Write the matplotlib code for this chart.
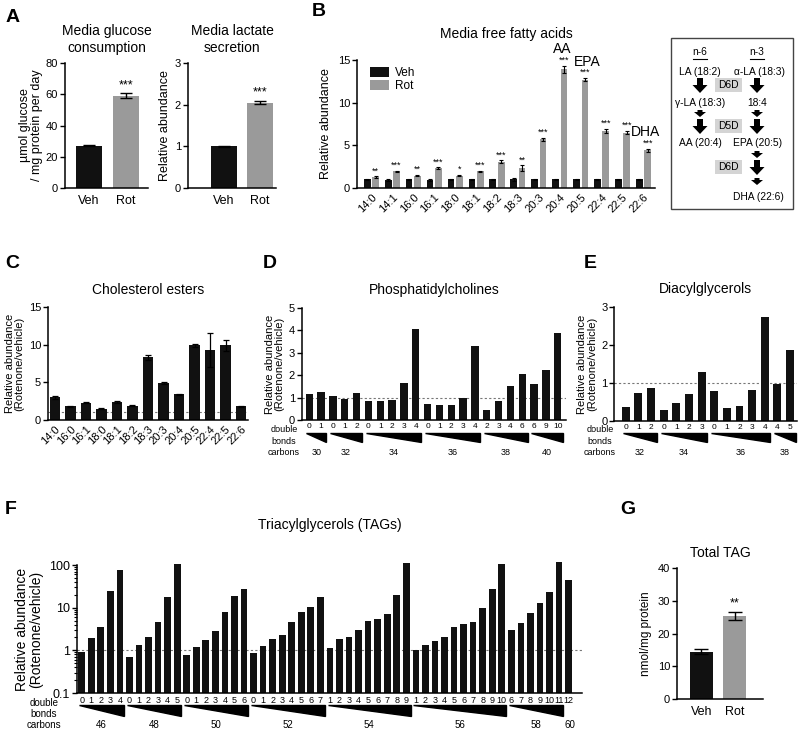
import matplotlib
matplotlib.use("Agg")
import matplotlib.pyplot as plt
import numpy as np
from matplotlib.transforms import blended_transform_factory
from matplotlib.patches import Polygon, FancyArrow, Rectangle

plt.rcParams['font.family'] = ['Liberation Sans', 'DejaVu Sans']
plt.rcParams['font.size'] = 8

# ---------------- data ----------------
ab_groups = ['Veh', 'Rot']
glucose_vals = [27, 59]
glucose_err = [0.4, 1.5]
lactate_vals = [1.0, 2.05]
lactate_err = [0.01, 0.04]

ffa_labels = ['14:0', '14:1', '16:0', '16:1', '18:0', '18:1', '18:2', '18:3',
              '20:3', '20:4', '20:5', '22:4', '22:5', '22:6']
ffa_veh = [1.0, 0.95, 1.0, 0.95, 1.0, 1.0, 1.0, 1.0, 1.0, 1.0, 1.0, 1.0, 1.0, 1.0]
ffa_veh_err = [0.08, 0.08, 0.1, 0.08, 0.1, 0.08, 0.1, 0.2, 0.1, 0.1, 0.1, 0.1, 0.1, 0.1]
ffa_rot = [1.3, 1.95, 1.45, 2.35, 1.45, 1.95, 3.1, 2.3, 5.7, 13.9, 12.7, 6.7, 6.5, 4.4]
ffa_rot_err = [0.08, 0.08, 0.1, 0.1, 0.1, 0.08, 0.15, 0.35, 0.15, 0.45, 0.2, 0.25, 0.2, 0.2]
ffa_sig = ['**', '***', '**', '***', '*', '***', '***', '**', '***', '***', '***', '***', '***', '***']

ce_labels = ['14:0', '16:0', '16:1', '18:0', '18:1', '18:2', '18:3', '20:3',
             '20:4', '20:5', '22:4', '22:5', '22:6']
ce_vals = [3.0, 1.8, 2.3, 1.5, 2.4, 1.9, 8.3, 4.9, 3.4, 9.9, 9.3, 9.9, 1.8]
ce_err = [0.2, 0.1, 0.1, 0.1, 0.1, 0.1, 0.3, 0.1, 0.1, 0.2, 2.2, 0.7, 0.1]

pc_carbons = ['30', '32', '34', '36', '38', '40']
pc_bonds = [[0, 1], [0, 1, 2], [0, 1, 2, 3, 4], [0, 1, 2, 3, 4], [2, 3, 4, 6], [6, 9, 10]]
pc_vals = [[1.15, 1.25], [1.05, 0.95, 1.2], [0.87, 0.87, 0.9, 1.65, 4.05],
           [0.73, 0.69, 0.68, 0.97, 3.3], [0.45, 0.85, 1.5, 2.05], [1.6, 2.25, 3.9]]

dag_carbons = ['32', '34', '36', '38']
dag_bonds = [[0, 1, 2], [0, 1, 2, 3], [0, 1, 2, 3, 4], [4, 5]]
dag_vals = [[0.38, 0.75, 0.88], [0.3, 0.47, 0.72, 1.3], [0.8, 0.35, 0.4, 0.82, 2.75], [0.98, 1.88]]

tag_carbons = ['46', '48', '50', '52', '54', '56', '58', '60']
tag_bonds = [[0, 1, 2, 3, 4], [0, 1, 2, 3, 4, 5], [0, 1, 2, 3, 4, 5, 6],
             [0, 1, 2, 3, 4, 5, 6, 7], [1, 2, 3, 4, 5, 6, 7, 8, 9],
             [1, 2, 3, 4, 5, 6, 7, 8, 9, 10], [6, 7, 8, 9, 10, 11], [12]]
tag_vals = [[0.93, 1.97, 3.6, 24, 76],
            [0.70, 1.31, 2.1, 4.6, 17.7, 105],
            [0.78, 1.21, 1.77, 2.8, 8.0, 19, 28],
            [0.88, 1.28, 1.84, 2.3, 4.5, 8.0, 10.2, 18],
            [1.15, 1.8, 2.1, 3.0, 4.9, 5.4, 7.0, 19.4, 110],
            [1.0, 1.33, 1.65, 2.1, 3.6, 4.2, 4.7, 9.9, 28, 108],
            [3.0, 4.4, 7.4, 13, 23.6, 115], [44]]

total_tag_vals = [14.5, 25.3]
total_tag_err = [0.8, 1.2]

VEH = '#111111'
ROT = '#9a9a9a'

# ---------------- figure ----------------
W, H = 800, 730
fig = plt.figure(figsize=(8, 7.3), dpi=100)


def fy(y):
    return 1 - y / H


def px_axes(l, t, r, b):
    return fig.add_axes([l / W, 1 - b / H, (r - l) / W, (b - t) / H])


def style(ax, lab=8):
    for s in ['top', 'right']:
        ax.spines[s].set_visible(False)
    for s in ['left', 'bottom']:
        ax.spines[s].set_linewidth(1.1)
    ax.tick_params(direction='out', length=3.5, width=1, labelsize=lab, pad=1.5)


def letter(x, y, s):
    fig.text(x / W, 1 - y / H, s, fontsize=14, fontweight='bold', ha='left', va='center')


def dashed(ax):
    ax.axhline(1, color='#777777', lw=0.8, ls=(0, (2, 2)), zorder=0)


# ---------- A ----------
letter(6, 18, 'A')
ax = px_axes(65, 63, 148, 188)
x = np.arange(len(ab_groups))
ax.bar(x, glucose_vals, width=0.72, color=[VEH, ROT],
       yerr=glucose_err, error_kw=dict(ecolor='black', capsize=4, elinewidth=1, capthick=1))
ax.set_xlim(-0.65, 1.6)
ax.set_ylim(0, 80)
ax.set_yticks([0, 20, 40, 60, 80])
ax.set_xticks(x, ab_groups)
style(ax)
ax.tick_params(axis='x', length=0, labelsize=9, pad=5)
ax.set_ylabel('µmol glucose\n/ mg protein per day', fontsize=9, labelpad=2, linespacing=1.0)
ax.set_title('Media glucose\nconsumption', fontsize=10, pad=8, linespacing=1.25)
ax.text(1, glucose_vals[1] + glucose_err[1] + 1.5, '***', ha='center', va='bottom', fontsize=9)

ax = px_axes(188, 63, 276, 188)
ax.bar(x, lactate_vals, width=0.72, color=[VEH, ROT],
       yerr=lactate_err, error_kw=dict(ecolor='black', capsize=4, elinewidth=1, capthick=1))
ax.set_xlim(-1.0, 1.45)
ax.set_ylim(0, 3)
ax.set_yticks([0, 1, 2, 3])
ax.set_xticks(x, ab_groups)
style(ax)
ax.tick_params(axis='x', length=0, labelsize=9, pad=5)
ax.set_ylabel('Relative abundance', fontsize=9, labelpad=3)
ax.set_title('Media lactate\nsecretion', fontsize=10, pad=8, linespacing=1.25)
ax.text(1, lactate_vals[1] + lactate_err[1] + 0.05, '***', ha='center', va='bottom', fontsize=9)

# ---------- B ----------
letter(312, 11, 'B')
ax = px_axes(357, 60, 655, 188)
xb = np.arange(len(ffa_labels))
ax.bar(xb - 0.2, ffa_veh, width=0.32, color=VEH, label='Veh', yerr=ffa_veh_err,
       error_kw=dict(ecolor='black', capsize=1.5, elinewidth=0.8, capthick=0.8))
ax.bar(xb + 0.2, ffa_rot, width=0.32, color=ROT, label='Rot', yerr=ffa_rot_err,
       error_kw=dict(ecolor='black', capsize=1.5, elinewidth=0.8, capthick=0.8))
for i in range(len(xb)):
    ax.text(xb[i] + 0.2, ffa_rot[i] + ffa_rot_err[i] + 0.1, ffa_sig[i],
            ha='center', va='bottom', fontsize=6.5)
ax.text(xb[9] + 0.1, ffa_rot[9] + ffa_rot_err[9] + 1.1, 'AA', ha='center', va='bottom', fontsize=10)
ax.text(xb[10] + 0.3, ffa_rot[10] + ffa_rot_err[10] + 1.1, 'EPA', ha='center', va='bottom', fontsize=10)
ax.text(xb[13] + 0.1, ffa_rot[13] + ffa_rot_err[13] + 1.1, 'DHA', ha='center', va='bottom', fontsize=10)
ax.set_xlim(-0.69, 13.55)
ax.set_ylim(0, 15)
ax.set_yticks([0, 5, 10, 15])
ax.set_xticks(xb, ffa_labels, rotation=45, ha='right', rotation_mode='anchor')
style(ax)
ax.tick_params(axis='x', length=0, labelsize=8, pad=3)
ax.set_ylabel('Relative abundance', fontsize=9, labelpad=4)
ax.set_title('Media free fatty acids', fontsize=10, pad=16)
ax.legend(loc='upper left', bbox_to_anchor=(0.02, 1.0), frameon=False, fontsize=8.5,
          handlelength=1.6, handleheight=0.9, borderaxespad=0.2, labelspacing=0.1,
          handletextpad=0.5)

# ---------- pathway box ----------
axp = fig.add_axes([0, 0, 1, 1])
axp.set_xlim(0, W)
axp.set_ylim(H, 0)
axp.axis('off')
axp.patch.set_visible(False)
axp.add_patch(Rectangle((671, 38), 122, 171, fill=False, ec='#444444', lw=1.0))
c6, c3 = 700, 757
fs = 7.4
axp.text(c6, 52, 'n-6', ha='center', va='center', fontsize=fs)
axp.text(c3, 52, 'n-3', ha='center', va='center', fontsize=fs)
axp.plot([c6 - 7, c6 + 7], [59, 59], color='black', lw=0.8)
axp.plot([c3 - 7, c3 + 7], [59, 59], color='black', lw=0.8)
axp.text(c6, 72, 'LA (18:2)', ha='center', va='center', fontsize=fs)
axp.text(c3 + 3, 72, 'α-LA (18:3)', ha='center', va='center', fontsize=fs)
axp.text(c6, 103, 'γ-LA (18:3)', ha='center', va='center', fontsize=fs)
axp.text(c3, 103, '18:4', ha='center', va='center', fontsize=fs)
axp.text(c6, 143, 'AA (20:4)', ha='center', va='center', fontsize=fs)
axp.text(c3 + 1, 143, 'EPA (20:5)', ha='center', va='center', fontsize=fs)
axp.text(c3 + 1, 197, 'DHA (22:6)', ha='center', va='center', fontsize=fs)


def big_arrow(xc, y0):
    axp.add_patch(FancyArrow(xc, y0, 0, 15, width=6, head_width=15, head_length=8,
                             length_includes_head=True, color='black', lw=0))


def small_arrow(xc, y0):
    axp.add_patch(FancyArrow(xc, y0, 0, 7, width=5, head_width=12, head_length=5,
                             length_includes_head=True, color='black', lw=0))


def enzyme(yc, s):
    axp.add_patch(Rectangle((715, yc - 7), 27, 14, color='#d4d4d4', lw=0))
    axp.text(728.5, yc, s, ha='center', va='center', fontsize=fs)


for c in (c6, c3):
    big_arrow(c, 78)
    small_arrow(c, 110)
    big_arrow(c, 119)
small_arrow(c3, 151)
big_arrow(c3, 160)
small_arrow(c3, 178)
enzyme(85, 'D6D')
enzyme(126, 'D5D')
enzyme(167, 'D6D')


# ---------- grouped helper ----------
def grouped(ax, carbons, bonds, vals, log=False, carb_fs=6.5,
            wedge_top=None, wedge_bot=None, carb_y=None, row_x=None, row_ys=None,
            row_fs=6.5, first_off=0.25, last_off=0.45):
    xs, labs, hs, bounds = [], [], [], []
    pos = 0
    for c, bl, vl in zip(carbons, bonds, vals):
        start = pos
        for b, v in zip(bl, vl):
            xs.append(pos)
            labs.append(str(b))
            hs.append(v)
            pos += 1
        bounds.append((start, pos - 1))
    xs = np.array(xs)
    hs = np.array(hs)
    if log:
        bars = ax.bar(xs, hs - 0.1, bottom=0.1, width=0.7, color=VEH)
        for b in bars:
            b.set_clip_on(False)
    else:
        ax.bar(xs, hs, width=0.62, color=VEH)
    ax.set_xticks(xs, labs)
    tr = blended_transform_factory(ax.transData, fig.transFigure)
    for (s, e), c in zip(bounds, carbons):
        if e > s:
            x0, x1 = s - first_off, e + last_off
            poly = Polygon([[x0, fy(wedge_top)], [x1, fy(wedge_top)], [x1, fy(wedge_bot)]],
                           closed=True, color='black', transform=tr, clip_on=False)
            ax.add_patch(poly)
        ax.text((s + e) / 2 + 0.1, fy(carb_y), c, transform=tr, ha='center', va='center',
                fontsize=carb_fs)
    for txt, yy in zip(['double', 'bonds', 'carbons'], row_ys):
        fig.text(row_x / W, fy(yy), txt, ha='center', va='center', fontsize=row_fs)
    return xs


# ---------- C ----------
letter(5, 263, 'C')
ax = px_axes(48, 307, 248, 420)
xc = np.arange(len(ce_labels))
ax.bar(xc, ce_vals, width=0.65, color=VEH, yerr=ce_err,
       error_kw=dict(ecolor='black', capsize=2, elinewidth=0.9, capthick=0.9))
dashed(ax)
ax.set_xlim(-0.45, 12.45)
ax.set_ylim(0, 15)
ax.set_yticks([0, 5, 10, 15])
ax.set_xticks(xc, ce_labels, rotation=45, ha='right', rotation_mode='anchor')
style(ax)
ax.tick_params(axis='x', length=0, labelsize=8, pad=3)
ax.set_ylabel('Relative abundance\n(Rotenone/vehicle)', fontsize=8, labelpad=3, linespacing=1.0)
ax.set_title('Cholesterol esters', fontsize=10, pad=9)

# ---------- D ----------
letter(263, 263, 'D')
ax = px_axes(302, 308, 566, 420)
grouped(ax, pc_carbons, pc_bonds, pc_vals, wedge_top=433, wedge_bot=442, carb_y=453,
        row_x=284, row_ys=(430, 441, 453))
dashed(ax)
ax.set_xlim(-0.62, 21.7)
ax.set_ylim(0, 5)
ax.set_yticks([0, 1, 2, 3, 4, 5])
style(ax)
ax.tick_params(axis='x', length=0, labelsize=6, pad=2)
ax.set_ylabel('Relative abundance\n(Rotenone/vehicle)', fontsize=8, labelpad=3, linespacing=1.0)
ax.set_title('Phosphatidylcholines', fontsize=10, pad=10)

# ---------- E ----------
letter(584, 263, 'E')
ax = px_axes(614, 307, 797, 421)
grouped(ax, dag_carbons, dag_bonds, dag_vals, wedge_top=433, wedge_bot=442, carb_y=453,
        row_x=600, row_ys=(430, 441, 453))
dashed(ax)
ax.set_xlim(-0.93, 13.55)
ax.set_ylim(0, 3)
ax.set_yticks([0, 1, 2, 3])
style(ax)
ax.tick_params(axis='x', length=0, labelsize=6, pad=2)
ax.tick_params(axis='y', pad=1)
ax.set_ylabel('Relative abundance\n(Rotenone/vehicle)', fontsize=8, labelpad=3, linespacing=1.0)
ax.set_title('Diacylglycerols', fontsize=10, pad=10)

# ---------- F ----------
letter(5, 510, 'F')
ax = px_axes(77, 565, 582, 693)
ax.set_yscale('log')
grouped(ax, tag_carbons, tag_bonds, tag_vals, log=True, carb_fs=7,
        wedge_top=705, wedge_bot=716, carb_y=725, row_x=44, row_ys=(703, 714, 725),
        row_fs=7)
dashed(ax)
ax.set_xlim(-0.49, 52.4)
ax.set_ylim(0.1, 100)
ax.set_yticks([0.1, 1, 10, 100], ['0.1', '1', '10', '100'])
style(ax, lab=9)
ax.tick_params(axis='x', length=0, labelsize=6.5, pad=2)
ax.tick_params(axis='y', which='minor', length=2, width=0.8)
ax.set_ylabel('Relative abundance\n(Rotenone/vehicle)', fontsize=10, labelpad=4, linespacing=1.0)
ax.set_title('Triacylglycerols (TAGs)', fontsize=10, pad=26)

# ---------- G ----------
letter(620, 510, 'G')
ax = px_axes(677, 568, 763, 699)
xg = np.arange(len(ab_groups))
ax.bar(xg, total_tag_vals, width=0.69, color=[VEH, ROT], yerr=total_tag_err,
       error_kw=dict(ecolor='black', capsize=5, elinewidth=1, capthick=1))
ax.text(1, total_tag_vals[1] + total_tag_err[1] + 0.8, '**', ha='center', va='bottom', fontsize=9)
ax.set_xlim(-0.73, 1.84)
ax.set_ylim(0, 40)
ax.set_yticks([0, 10, 20, 30, 40])
ax.set_xticks(xg, ab_groups)
style(ax)
ax.tick_params(axis='x', length=0, labelsize=9, pad=5)
ax.set_ylabel('nmol/mg protein', fontsize=8.5, labelpad=4)
ax.set_title('Total TAG', fontsize=10, pad=8)

fig.savefig('out.png', dpi=100)
